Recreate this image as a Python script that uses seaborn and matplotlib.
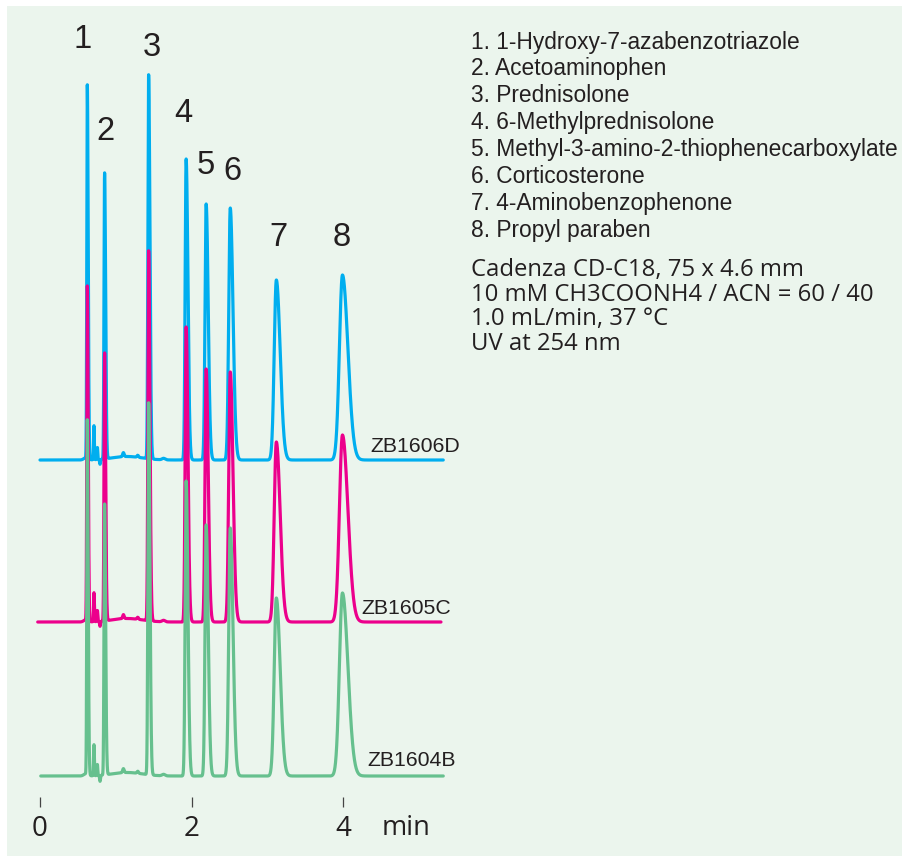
import numpy as np
import pandas as pd
import matplotlib
matplotlib.use("Agg")
import matplotlib.pyplot as plt
from matplotlib.patches import Rectangle
import seaborn as sns

# ---------------- data ----------------
series_names = ["ZB1606D", "ZB1605C", "ZB1604B"]
series_colors = ["#00aeef", "#ec008c", "#66c08e"]
series_offsets = [347, 185, 31]          # baseline offset of each trace (signal units)
series_start = [0.00, -0.03, 0.01]       # min
series_end = [5.32, 5.29, 5.32]          # min

peak_ids = ["1", "2", "3", "4", "5", "6", "7", "8"]
retention_times = [0.624, 0.852, 1.433, 1.928, 2.192, 2.510, 3.118, 3.990]
peak_sigma = [0.0065, 0.0075, 0.0095, 0.013, 0.015, 0.020, 0.028, 0.040]
heights_1606D = [374, 286, 384, 301, 256, 252, 180, 185]
heights_1605C = [335, 268, 370, 295, 253, 250, 180, 187]
heights_1604B = [355, 271, 372, 295, 251, 248, 178, 183]
series_heights = [heights_1606D, heights_1605C, heights_1604B]

# small solvent-front features near the start (time, height, sigma)
minor_times = [0.600, 0.712, 0.757, 0.792, 1.100, 1.150, 1.290, 1.630]
minor_sigma = [0.025, 0.005, 0.005, 0.006, 0.010, 0.200, 0.010, 0.020]
minor_1606D = [2.0, 34, 12, -5, 4, 3.5, 2, 1.5]
minor_1605C = [2.0, 29, 11, -5, 4, 3.5, 2, 1.5]
minor_1604B = [2.0, 31, 11, -6, 4, 3.5, 2, 1.5]
series_minor = [minor_1606D, minor_1605C, minor_1604B]

tick_values = [0, 2, 4]
tick_labels = ["0", "2", "4"]

legend_lines = [
    "1. 1-Hydroxy-7-azabenzotriazole",
    "2. Acetoaminophen",
    "3. Prednisolone",
    "4. 6-Methylprednisolone",
    "5. Methyl-3-amino-2-thiophenecarboxylate",
    "6. Corticosterone",
    "7. 4-Aminobenzophenone",
    "8. Propyl paraben",
]
condition_lines = [
    "Cadenza CD-C18, 75 x 4.6 mm",
    "10 mM CH3COONH4 / ACN = 60 / 40",
    "1.0 mL/min, 37 °C",
    "UV at 254 nm",
]

# ---------------- build traces ----------------
def trace(t, heights, minor):
    y = np.zeros_like(t)
    for rt, h, s in zip(retention_times, heights, peak_sigma):
        sl = s
        sr = s * 1.8
        sig = np.where(t < rt, sl, sr)
        y += h * np.exp(-0.5 * ((t - rt) / sig) ** 2)
    for mt, h, s in zip(minor_times, minor, minor_sigma):
        y += h * np.exp(-0.5 * ((t - mt) / s) ** 2)
    return y

frames = []
for name, off, t0, t1, hts, mnr in zip(series_names, series_offsets, series_start,
                                       series_end, series_heights, series_minor):
    t = np.linspace(t0, t1, 6000)
    frames.append(pd.DataFrame({"time": t, "signal": trace(t, hts, mnr) + off,
                                "series": name}))
df = pd.concat(frames, ignore_index=True)

# ---------------- figure ----------------
W, H = 902, 856
sns.set_theme(style="white")
plt.rcParams["font.family"] = ["Liberation Sans", "DejaVu Sans"]
fig = plt.figure(figsize=(W / 100, H / 100), dpi=100)
fig.patch.set_facecolor("white")
fig.add_artist(Rectangle((7 / W, 0), 1 - 7 / W, 1 - 6 / H, transform=fig.transFigure,
                         facecolor="#ebf5ed", edgecolor="none", zorder=0))

PXM = 75.8          # pixels per minute
X0 = 40             # pixel position of t = 0
AX_BOTTOM = 807     # pixel row of axes bottom
ax = fig.add_axes([0, (H - AX_BOTTOM) / H, 1, AX_BOTTOM / H])
ax.set_facecolor("none")
ax.set_xlim(-X0 / PXM, (W - X0) / PXM)
ax.set_ylim(0, AX_BOTTOM)

for name, col in zip(series_names, series_colors):
    sub = df[df["series"] == name]
    sns.lineplot(data=sub, x="time", y="signal", ax=ax, color=col, lw=2.3,
                 estimator=None, sort=False, legend=False)

for s in ax.spines.values():
    s.set_visible(False)
ax.set_xlabel("")
ax.set_ylabel("")
ax.set_yticks([])
ax.set_xticks(tick_values)
ax.set_xticklabels(tick_labels)
ax.tick_params(axis="x", bottom=True, direction="in", length=7.5, width=0.9,
               color="#444444", pad=6, labelsize=20, labelcolor="#231f20")
for lbl in ax.get_xticklabels():
    lbl.set_fontfamily(["Open Sans", "DejaVu Sans"])
ax.text((406 - X0) / PXM, AX_BOTTOM - 828, "min", ha="center", va="center",
        fontsize=19.5, color="#231f20", family=["Open Sans", "DejaVu Sans"], clip_on=False)

def px2data(xp, yp):
    return (xp - X0) / PXM, AX_BOTTOM - yp

# peak numbers
label_px = [(83, 40), (105, 132), (152, 48), (183, 114), (206, 165), (232, 172),
            (278, 237), (342, 237)]
for pid, (xp, yp) in zip(peak_ids, label_px):
    x, y = px2data(xp, yp)
    ax.text(x, y, pid, ha="center", va="center", fontsize=23.5, color="#231f20")

# series labels
series_label_px = [(370, 446), (361, 608), (367, 760)]
for name, (xp, yp) in zip(series_names, series_label_px):
    x, y = px2data(xp, yp)
    ax.text(x, y, name, ha="left", va="center", fontsize=15.3, color="#231f20")

# compound list
for i, line in enumerate(legend_lines):
    fig.text(471 / W, 1 - (48.5 + i * 26.9) / H, line, ha="left", va="baseline",
             fontsize=16.4, color="#231f20")
for i, line in enumerate(condition_lines):
    fig.text(471 / W, 1 - (276 + i * 24.7) / H, line, ha="left", va="baseline",
             fontsize=17.2, color="#231f20", family=["Open Sans", "DejaVu Sans"])

fig.savefig("out.png", dpi=100)
